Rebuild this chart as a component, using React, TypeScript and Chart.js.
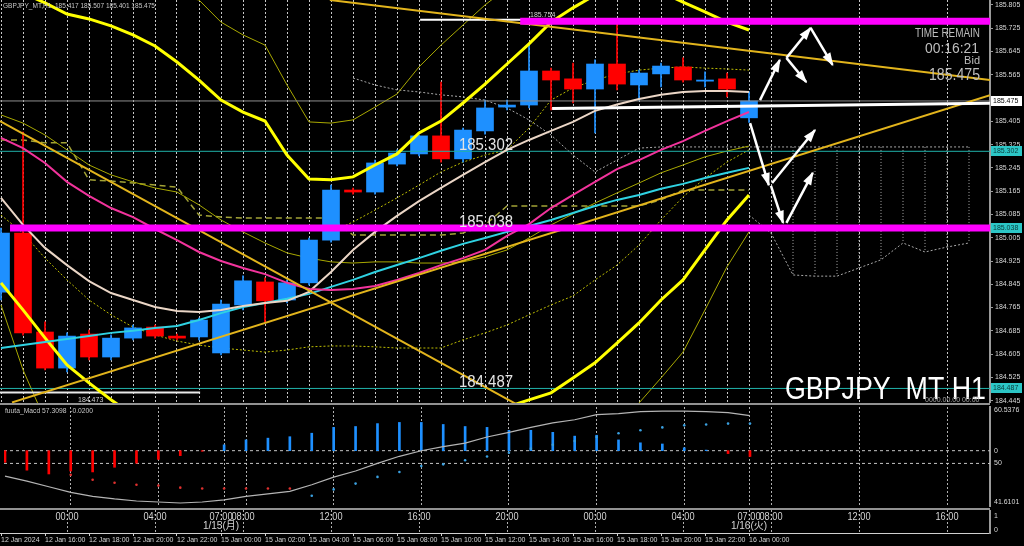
import React, { useEffect, useRef } from "react";
import { Chart, registerables } from "chart.js";

Chart.register(...registerables);

const FONT = "'Liberation Sans', Arial, sans-serif";
const BLUE = "#1E90FF";
const RED = "#FF0000";

// x axis: one hourly bar per index (0 = 12 Jan 14:00 server time), future slots up to 44
const X_MIN = -1 / 22;
const X_MAX = 45 - 1 / 22;
const PRICE_MIN = 184.437;
const PRICE_MAX = 185.822;

// ---------- candles (GBPJPY H1) ----------
const candleOpen = [184.818, 185.021, 184.681, 184.557, 184.674, 184.595, 184.66, 184.698, 184.667, 184.664, 184.609, 184.774, 184.853, 184.791, 184.85, 184.997, 185.169, 185.162, 185.258, 185.293, 185.355, 185.276, 185.372, 185.454, 185.461, 185.578, 185.551, 185.516, 185.602, 185.53, 185.568, 185.592, 185.543, 185.551, 185.417];
const candleHigh = [185.038, 185.368, 184.716, 184.678, 184.688, 184.671, 184.705, 184.705, 184.674, 184.729, 184.791, 184.874, 184.867, 184.86, 185.004, 185.186, 185.176, 185.272, 185.307, 185.358, 185.54, 185.382, 185.478, 185.478, 185.667, 185.588, 185.605, 185.616, 185.754, 185.581, 185.605, 185.623, 185.575, 185.571, 185.507];
const candleLow = [184.791, 184.67, 184.551, 184.544, 184.585, 184.585, 184.654, 184.66, 184.654, 184.654, 184.602, 184.757, 184.716, 184.781, 184.843, 184.99, 185.155, 185.155, 185.252, 185.286, 185.265, 185.265, 185.361, 185.444, 185.451, 185.444, 185.468, 185.365, 185.513, 185.478, 185.523, 185.54, 185.523, 185.489, 185.401];
const candleClose = [185.021, 184.678, 184.557, 184.667, 184.595, 184.66, 184.695, 184.667, 184.66, 184.722, 184.777, 184.857, 184.788, 184.85, 184.997, 185.169, 185.162, 185.262, 185.296, 185.355, 185.276, 185.375, 185.451, 185.461, 185.578, 185.547, 185.516, 185.602, 185.533, 185.571, 185.595, 185.547, 185.547, 185.516, 185.475];

// ---------- moving averages ----------
const maShort = [185.142, 185.049, 184.97, 184.911, 184.856, 184.815, 184.791, 184.767, 184.753, 184.75, 184.757, 184.77, 184.781, 184.788, 184.819, 184.887, 184.963, 185.025, 185.08, 185.131, 185.176, 185.221, 185.265, 185.307, 185.341, 185.372, 185.403, 185.441, 185.463, 185.482, 185.496, 185.506, 185.509, 185.509, 185.506];
const maMid = [185.348, 185.313, 185.262, 185.197, 185.149, 185.107, 185.076, 185.035, 184.997, 184.956, 184.925, 184.901, 184.88, 184.85, 184.829, 184.825, 184.829, 184.839, 184.86, 184.884, 184.911, 184.935, 184.963, 185.011, 185.052, 185.107, 185.152, 185.197, 185.241, 185.272, 185.307, 185.337, 185.372, 185.406, 185.437];
const maLong = [184.626, 184.636, 184.647, 184.657, 184.667, 184.678, 184.685, 184.695, 184.702, 184.722, 184.746, 184.767, 184.781, 184.795, 184.812, 184.836, 184.86, 184.887, 184.911, 184.935, 184.96, 184.984, 185.004, 185.025, 185.045, 185.066, 185.09, 185.114, 185.135, 185.152, 185.173, 185.19, 185.21, 185.228, 185.245];

// ---------- bands / envelopes ----------
const bandUpper = [185.884, 185.846, 185.812, 185.774, 185.757, 185.733, 185.702, 185.664, 185.609, 185.547, 185.478, 185.437, 185.406, 185.289, 185.207, 185.204, 185.214, 185.255, 185.293, 185.365, 185.406, 185.468, 185.533, 185.602, 185.671, 185.746, 185.795, 185.839, 185.863, 185.863, 185.849, 185.815, 185.781, 185.746, 185.719];
const bandLower = [184.85, 184.757, 184.661, 184.568, 184.506, 184.448, 184.396, 184.362, 184.338, 184.317, 184.293, 184.276, 184.269, 184.276, 184.289, 184.293, 184.286, 184.293, 184.31, 184.338, 184.362, 184.396, 184.406, 184.423, 184.448, 184.472, 184.523, 184.575, 184.643, 184.712, 184.791, 184.86, 184.963, 185.066, 185.152];
const envUpper = [185.96, 185.942, 185.925, 185.911, 185.898, 185.884, 185.87, 185.853, 185.836, 185.822, 185.746, 185.702, 185.667, 185.53, 185.403, 185.399, 185.41, 185.454, 185.499, 185.592, 185.667, 185.736, 185.805, 185.863, 185.925, 185.977, 186.011, 186.045, 186.063, 186.069, 186.063, 186.045, 186.021, 185.994, 185.966];
const envMiddle = [185.427, 185.399, 185.358, 185.307, 185.255, 185.221, 185.197, 185.176, 185.162, 185.118, 185.066, 185.025, 184.987, 184.953, 184.935, 184.922, 184.918, 184.922, 184.922, 184.918, 184.918, 184.922, 184.939, 184.963, 185.004, 185.049, 185.087, 185.124, 185.159, 185.193, 185.228, 185.255, 185.283, 185.303, 185.32];
const envLower = [184.774, 184.551, 184.379, null, null, null, null, null, null, null, null, null, null, null, null, null, null, null, null, null, null, null, null, null, null, null, null, null, 184.344, 184.437, 184.523, 184.612, 184.757, 184.905, 185.025];
const dotLower = [185.083, 185.021, 184.935, 184.86, 184.791, 184.74, 184.698, 184.671, 184.65, 184.636, 184.626, 184.619, 184.612, 184.619, 184.63, 184.633, 184.633, 184.63, 184.626, 184.626, 184.626, 184.654, 184.678, 184.705, 184.74, 184.774, 184.805, 184.86, 184.911, 184.98, 185.066, 185.145, 185.21, 185.265, 185.307];
const dotUpperStart = 15;
const dotUpper = [185.025, 185.059, 185.1, 185.142, 185.186, 185.231, 185.265, 185.289, 185.307, 185.382, 185.478, 185.52, 185.547, 185.568, 185.581, 185.588, 185.592, 185.588, 185.585, 185.581];
const kijun = [185.341, 185.341, 185.331, 185.331, 185.204, 185.2, 185.193, 185.186, 185.179, 185.083, 185.076, 185.073, 185.073, 185.073, 185.073, 185.073, 185.014, 185.014, 185.014, 185.014, 185.014, 185.021, 185.049, 185.114, 185.114, 185.114, 185.114, 185.114, 185.114, 185.114, 185.135, 185.169, 185.169, 185.169, 185.169];
const spanAStart = 16;
const spanA = [185.554, 185.53, 185.513, 185.506, 185.496, 185.489, 185.478, 185.451, 185.41, 185.358, 185.289, 185.231, 185.272, 185.313, 185.317, 185.317, 185.317, 185.317, 185.317, 185.317, 185.317, 185.317, 185.317, 185.317, 185.317, 185.317, 185.317, 185.317, 185.317];
const spanBStart = 34;
const spanB = [185.083, 185.021, 184.877, 184.873, 184.873, 184.901, 184.929, 184.987, 184.956, 184.973, 184.987];

// ---------- trend lines / levels / arrows ----------
const trendX1 = [X_MIN, 0.5, 14.95];
const trendY1 = [185.406, 184.439, 185.822];
const trendX2 = [23.5, X_MAX, X_MAX];
const trendY2 = [184.43, 185.495, 185.547];
const magentaLevels = [185.749, 185.038];
const magentaFrom = [23.6, 0.41];
const cyanLevels = [185.302, 184.487];
const bidPrice = 185.475;
const highLevel = 185.754;
const highFrom = 19.05;
const highTo = 29.05;
const lowLevel = 184.473;
const lowTo = 9.05;
const supportX = [25.05, X_MAX];
const supportY = [185.449, 185.467];
const arrowX1 = [34.5, 35.7, 36.8, 35.7, 34.05, 35.05, 35.0, 35.7];
const arrowY1 = [185.478, 185.623, 185.726, 185.623, 185.399, 185.193, 185.183, 185.056];
const arrowX2 = [35.4, 36.8, 37.8, 36.6, 34.9, 37.0, 35.55, 36.9];
const arrowY2 = [185.616, 185.726, 185.599, 185.54, 185.186, 185.375, 185.056, 185.228];
const lineLabelValues = [185.302, 185.038, 184.487];

// ---------- price axis ----------
const priceTicks = [185.805, 185.725, 185.645, 185.565, 185.405, 185.325, 185.245, 185.165, 185.085, 185.005, 184.925, 184.845, 184.765, 184.685, 184.605, 184.525, 184.445];
const boxValues = [185.475, 185.302, 185.038, 184.487];
const boxBg = ["#FFFFFF", "#2CC6C6", "#2CC6C6", "#2CC6C6"];
const boxFg = ["#000000", "#0B3A3A", "#0B3A3A", "#0B3A3A"];

// ---------- sub window (fuuta_Macd) ----------
const macdHist = [-0.04, -0.067, -0.08, -0.07, -0.073, -0.057, -0.043, -0.03, -0.017, -0.002, 0.02, 0.037, 0.043, 0.048, 0.06, 0.08, 0.083, 0.093, 0.097, 0.097, 0.09, 0.083, 0.08, 0.07, 0.07, 0.063, 0.05, 0.053, 0.037, 0.027, 0.023, 0.01, 0.002, -0.01, -0.02];
const macdSignal = [null, null, null, -0.083, -0.1, -0.11, -0.117, -0.12, -0.127, -0.13, -0.13, -0.13, -0.13, -0.13, -0.155, -0.133, -0.113, -0.09, -0.073, -0.053, -0.047, -0.033, -0.02, -0.007, 0.007, 0.02, 0.033, 0.047, 0.06, 0.07, 0.08, 0.087, 0.09, 0.093, 0.093];
const oscLine = [47.5, 46.5, 45.4, 44.3, 43.5, 43.0, 42.6, 42.4, 42.2, 42.4, 42.8, 43.5, 44.0, 44.5, 45.8, 47.3, 48.5, 50.0, 51.4, 52.5, 53.3, 54.0, 55.2, 56.1, 57.1, 58.0, 58.6, 59.6, 59.8, 60.2, 60.3, 60.3, 60.2, 60.0, 59.4];
const oscMax = 60.5376;
const oscMin = 41.6101;
const oscMid = 50;

// ---------- time labels ----------
const axisTickIdx = [0, 2, 4, 6, 8, 10, 12, 14, 16, 18, 20, 22, 24, 26, 28, 30, 32, 34];
const axisTickText = ["12 Jan 2024", "12 Jan 16:00", "12 Jan 18:00", "12 Jan 20:00", "12 Jan 22:00", "15 Jan 00:00", "15 Jan 02:00", "15 Jan 04:00", "15 Jan 06:00", "15 Jan 08:00", "15 Jan 10:00", "15 Jan 12:00", "15 Jan 14:00", "15 Jan 16:00", "15 Jan 18:00", "15 Jan 20:00", "15 Jan 22:00", "16 Jan 00:00"];
const paneTimeIdx = [3, 7, 10, 11, 15, 19, 23, 27, 31, 34, 35, 39, 43];
const paneTimeText = ["00:00", "04:00", "07:00", "08:00", "12:00", "16:00", "20:00", "00:00", "04:00", "07:00", "08:00", "12:00", "16:00"];
const paneDateIdx = [10, 34];
const paneDateText = ["1/15(月)", "1/16(火)"];

const mainGridIdx = [...Array.from({ length: 36 }, (_, i) => i), 39, 43];

// ---------- helpers ----------
const pts = (arr: (number | null)[], start = 0) => arr.map((v, k) => ({ x: start + k, y: v }));
const seg = (x1: number, y1: number, x2: number, y2: number) => [
  { x: x1, y: y1 },
  { x: x2, y: y2 },
];
const line = (data: any[], color: string, width: number, extra: any = {}) => ({
  type: "line",
  data,
  borderColor: color,
  borderWidth: width,
  pointRadius: 0,
  fill: false,
  tension: 0,
  spanGaps: false,
  order: 8,
  ...extra,
});

const xScaleBase = (gridIdx: number[], color: string) => ({
  type: "linear",
  min: X_MIN,
  max: X_MAX,
  offset: false,
  afterBuildTicks: (s: any) => {
    s.ticks = gridIdx.map((v) => ({ value: v }));
  },
  afterFit: (s: any) => {
    s.height = 0;
    s.paddingLeft = 0;
    s.paddingRight = 0;
  },
  ticks: { display: false },
  grid: { color, lineWidth: 1, drawTicks: false, offset: false },
  border: { display: false, dash: [2, 2] },
});

const rightAxisFrame = (extra: any = {}) => ({
  type: "linear",
  position: "right",
  axis: "y",
  afterFit: (s: any) => {
    s.width = 34;
    s.paddingTop = 0;
    s.paddingBottom = 0;
  },
  ticks: { display: false },
  grid: { drawOnChartArea: false, drawTicks: false },
  border: { display: true, color: "#9a9a9a", width: 2 },
  ...extra,
});

const baseOptions = {
  animation: false,
  responsive: false,
  devicePixelRatio: 1,
  events: [],
  plugins: { legend: { display: false }, tooltip: { enabled: false } },
};

// ---------- main price window ----------
const mainOverlay = {
  id: "mainOverlay",
  afterDatasetsDraw(chart: any) {
    const { ctx, chartArea: a } = chart;
    const xs = chart.scales.x;
    const ys = chart.scales.y;
    ctx.save();
    ctx.beginPath();
    ctx.rect(a.left, a.top, a.right - a.left, a.bottom - a.top);
    ctx.clip();
    // arrow heads
    ctx.fillStyle = "#FFFFFF";
    for (let k = 0; k < arrowX1.length; k++) {
      const x1 = xs.getPixelForValue(arrowX1[k]);
      const y1 = ys.getPixelForValue(arrowY1[k]);
      const x2 = xs.getPixelForValue(arrowX2[k]);
      const y2 = ys.getPixelForValue(arrowY2[k]);
      const ang = Math.atan2(y2 - y1, x2 - x1);
      const L = 12;
      const H = 4.5;
      const bx = x2 - L * Math.cos(ang);
      const by = y2 - L * Math.sin(ang);
      ctx.beginPath();
      ctx.moveTo(x2 + 1.5 * Math.cos(ang), y2 + 1.5 * Math.sin(ang));
      ctx.lineTo(bx + H * Math.sin(ang), by - H * Math.cos(ang));
      ctx.lineTo(bx - H * Math.sin(ang), by + H * Math.cos(ang));
      ctx.closePath();
      ctx.fill();
    }
    // header
    ctx.textBaseline = "middle";
    ctx.textAlign = "left";
    ctx.fillStyle = "#C8C8C8";
    ctx.font = `7px ${FONT}`;
    ctx.fillText(
      `GBPJPY_MT,H1  ${candleOpen[34].toFixed(3)} ${candleHigh[34].toFixed(3)} ${candleLow[34].toFixed(3)} ${candleClose[34].toFixed(3)}`,
      3,
      6,
      152
    );
    // level labels
    ctx.textBaseline = "alphabetic";
    ctx.fillStyle = "#E4E4E4";
    ctx.font = `16px ${FONT}`;
    lineLabelValues.forEach((v) => {
      ctx.fillText(v.toFixed(3), 459, ys.getPixelForValue(v) - 1.5, 54);
    });
    ctx.font = `7px ${FONT}`;
    ctx.fillStyle = "#D0D0D0";
    ctx.fillText(highLevel.toFixed(3), 530, ys.getPixelForValue(highLevel) - 3, 26);
    ctx.fillText(lowLevel.toFixed(3), 78, ys.getPixelForValue(lowLevel) + 9, 26);
    // time remain block
    ctx.textAlign = "right";
    ctx.fillStyle = "#BEBEBE";
    ctx.font = `12px ${FONT}`;
    ctx.fillText("TIME REMAIN", 980, 37, 65);
    ctx.font = `14px ${FONT}`;
    ctx.fillText("00:16:21", 979, 53, 54);
    ctx.font = `11px ${FONT}`;
    ctx.fillText("Bid", 980, 64);
    ctx.font = `16px ${FONT}`;
    ctx.fillText(bidPrice.toFixed(3), 980, 80, 51);
    // symbol
    ctx.textAlign = "left";
    ctx.fillStyle = "#FFFFFF";
    ctx.font = `31px ${FONT}`;
    ctx.fillText("GBPJPY_MT H1", 785, 399, 201);
    ctx.font = `7px ${FONT}`;
    ctx.fillStyle = "#A8A8A8";
    ctx.fillText("0000.00.00 00:00", 925, 402, 60);
    ctx.restore();
  },
  afterDraw(chart: any) {
    const { ctx } = chart;
    const ys = chart.scales.y;
    ctx.save();
    ctx.font = `7px ${FONT}`;
    ctx.textBaseline = "middle";
    ctx.textAlign = "left";
    boxValues.forEach((v, k) => {
      const py = Math.round(ys.getPixelForValue(v));
      ctx.fillStyle = boxBg[k];
      ctx.fillRect(991, py - 5, 31, 10);
      ctx.fillStyle = boxFg[k];
      ctx.fillText(v.toFixed(3), 993, py + 0.5, 28);
    });
    ctx.restore();
  },
};

function buildMain() {
  const colors = candleOpen.map((o, i) => (candleClose[i] >= o ? BLUE : RED));
  const ds: any[] = [];
  for (let i = 36; i <= 44; i++) {
    ds.push(line(seg(i, spanA[i - spanAStart], i, spanB[i - spanBStart]), "#a8a8a8", 1, { borderDash: [1, 2], order: 30 }));
  }
  ds.push(line(pts(spanA, spanAStart), "#a8a8a8", 1, { borderDash: [2, 2], order: 29 }));
  ds.push(line(pts(spanB, spanBStart), "#a8a8a8", 1, { borderDash: [2, 2], order: 29 }));
  ds.push(line(pts(kijun), "#A3A336", 1.5, { borderDash: [6, 4], order: 28 }));
  ds.push(line(pts(dotLower), "#BDBD00", 1, { borderDash: [2, 2], order: 28 }));
  ds.push(line(pts(dotUpper, dotUpperStart), "#BDBD00", 1, { borderDash: [2, 2], order: 28 }));
  ds.push(line(pts(envMiddle), "#A8A800", 1, { order: 27 }));
  ds.push(line(pts(envUpper), "#A8A800", 1, { order: 27 }));
  ds.push(line(pts(envLower), "#A8A800", 1, { order: 27 }));
  ds.push({
    type: "bar",
    data: candleOpen.map((_, i) => ({ x: i, y: [candleLow[i], candleHigh[i]] })),
    backgroundColor: colors,
    borderWidth: 0,
    barThickness: 1,
    grouped: false,
    order: 26,
  });
  ds.push({
    type: "bar",
    data: candleOpen.map((o, i) => ({ x: i, y: [o, candleClose[i]] })),
    backgroundColor: colors,
    borderWidth: 0,
    borderSkipped: false,
    barThickness: 17,
    grouped: false,
    order: 25,
  });
  cyanLevels.forEach((v) => ds.push(line(seg(X_MIN, v, X_MAX, v), "#20B2AA", 1, { order: 20 })));
  ds.push(line(seg(X_MIN, bidPrice, X_MAX, bidPrice), "#8E8E8E", 1, { order: 20 }));
  ds.push(line(seg(highFrom, highLevel, highTo, highLevel), "#FFFFFF", 2, { order: 19 }));
  ds.push(line(seg(X_MIN, lowLevel, lowTo, lowLevel), "#E8E8E8", 2, { order: 19 }));
  ds.push(line(pts(bandUpper), "#FFFF00", 3, { order: 12 }));
  ds.push(line(pts(bandLower), "#FFFF00", 3, { order: 12 }));
  ds.push(line(pts(maShort), "#EBD6C6", 2, { order: 10 }));
  ds.push(line(pts(maLong), "#2FD2E2", 2, { order: 10 }));
  ds.push(line(pts(maMid), "#F2339C", 2, { order: 9 }));
  trendX1.forEach((x1, k) => ds.push(line(seg(x1, trendY1[k], trendX2[k], trendY2[k]), "#E2B41C", 2, { order: 8 })));
  magentaLevels.forEach((v, k) => ds.push(line(seg(magentaFrom[k], v, X_MAX, v), "#FF00FF", 7, { order: 6 })));
  ds.push(line(seg(supportX[0], supportY[0], supportX[1], supportY[1]), "#FFFFFF", 3, { order: 5 }));
  arrowX1.forEach((x1, k) => ds.push(line(seg(x1, arrowY1[k], arrowX2[k], arrowY2[k]), "#FFFFFF", 2.5, { order: 1 })));

  return {
    type: "line",
    data: { datasets: ds },
    options: {
      ...baseOptions,
      layout: { padding: 0 },
      scales: {
        x: xScaleBase(mainGridIdx, "#c8c8c8"),
        y: {
          type: "linear",
          position: "right",
          min: PRICE_MIN,
          max: PRICE_MAX,
          afterBuildTicks: (s: any) => {
            s.ticks = priceTicks.map((v) => ({ value: v }));
          },
          afterFit: (s: any) => {
            s.width = 34;
            s.paddingTop = 0;
            s.paddingBottom = 0;
          },
          ticks: {
            color: "#D8D8D8",
            font: { size: 7, family: FONT },
            padding: 2,
            autoSkip: false,
            callback: (v: any) => Number(v).toFixed(3),
          },
          grid: { drawOnChartArea: false, tickLength: 3, color: "#9a9a9a" },
          border: { display: true, color: "#9a9a9a", width: 2 },
        },
      },
    },
    plugins: [mainOverlay],
  };
}

// ---------- oscillator window ----------
const macdOverlay = {
  id: "macdOverlay",
  beforeDraw(chart: any) {
    const { ctx } = chart;
    ctx.save();
    ctx.fillStyle = "#929292";
    ctx.fillRect(0, 0, 990, 2);
    ctx.fillRect(0, chart.height - 2, 990, 2);
    ctx.restore();
  },
  afterDraw(chart: any) {
    const { ctx, chartArea: a } = chart;
    const o = chart.scales.osc;
    const h = chart.scales.hist;
    ctx.save();
    ctx.font = `7px ${FONT}`;
    ctx.fillStyle = "#C8C8C8";
    ctx.textBaseline = "middle";
    ctx.textAlign = "left";
    ctx.fillText(`fuuta_Macd 57.3098  ${macdHist[34].toFixed(4)}`, 5, 8, 88);
    ctx.fillStyle = "#D8D8D8";
    const lab = (t: string, py: number) => ctx.fillText(t, 994, Math.min(Math.max(py, a.top + 3), a.bottom - 4), 29);
    lab(oscMax.toFixed(4), o.getPixelForValue(oscMax));
    lab("0", h.getPixelForValue(0));
    lab(String(oscMid), o.getPixelForValue(oscMid));
    lab(oscMin.toFixed(4), o.getPixelForValue(oscMin));
    ctx.restore();
  },
};

function buildMacd() {
  const ds: any[] = [];
  ds.push(line(seg(X_MIN, 0, X_MAX, 0), "#C4C4C4", 1, { yAxisID: "hist", borderDash: [3, 3], order: 20 }));
  ds.push(line(seg(X_MIN, oscMid, X_MAX, oscMid), "#C4C4C4", 1, { yAxisID: "osc", borderDash: [3, 3], order: 20 }));
  ds.push({
    type: "bar",
    yAxisID: "hist",
    data: pts(macdHist),
    backgroundColor: macdHist.map((v) => (v >= 0 ? BLUE : RED)),
    borderWidth: 0,
    barThickness: 2,
    grouped: false,
    order: 10,
  });
  ds.push(line(pts(oscLine), "#B4B4B4", 1.2, { yAxisID: "osc", order: 5 }));
  ds.push({
    type: "line",
    yAxisID: "hist",
    data: pts(macdSignal),
    showLine: false,
    pointRadius: 1.3,
    pointBorderWidth: 0,
    pointBackgroundColor: macdSignal.map((_, i) => (i <= 13 ? "#E0302E" : "#3AA0E0")),
    order: 4,
  });
  return {
    type: "line",
    data: { datasets: ds },
    options: {
      ...baseOptions,
      layout: { padding: { top: 3, bottom: 2, left: 0, right: 0 } },
      scales: {
        x: xScaleBase(paneTimeIdx, "#b0b0b0"),
        osc: rightAxisFrame({ min: 41.6101, max: 61.111 }),
        hist: { type: "linear", axis: "y", display: false, min: -0.19, max: 0.15 },
      },
    },
    plugins: [macdOverlay],
  };
}

// ---------- time pane / axis ----------
const axisOverlay = {
  id: "axisOverlay",
  afterDraw(chart: any) {
    const { ctx } = chart;
    const xs = chart.scales.x;
    ctx.save();
    ctx.textAlign = "center";
    ctx.textBaseline = "middle";
    ctx.fillStyle = "#D4D4D4";
    ctx.font = `10px ${FONT}`;
    paneTimeIdx.forEach((i, k) => ctx.fillText(paneTimeText[k], xs.getPixelForValue(i), 7, 23));
    ctx.font = `10px ${FONT}, 'Noto Sans CJK JP'`;
    paneDateIdx.forEach((i, k) => ctx.fillText(paneDateText[k], xs.getPixelForValue(i), 16));
    ctx.textAlign = "left";
    ctx.font = `7px ${FONT}`;
    ctx.fillText("1", 994, 6);
    ctx.fillText("0", 994, 20);
    ctx.restore();
  },
};

function buildAxis() {
  return {
    type: "line",
    data: { datasets: [] },
    options: {
      ...baseOptions,
      layout: { padding: 0 },
      scales: {
        x: {
          type: "linear",
          min: X_MIN,
          max: X_MAX,
          offset: false,
          position: "bottom",
          afterBuildTicks: (s: any) => {
            s.ticks = axisTickIdx.map((v) => ({ value: v }));
          },
          afterFit: (s: any) => {
            s.height = 13;
            s.paddingLeft = 0;
            s.paddingRight = 0;
          },
          ticks: {
            color: "#D4D4D4",
            font: { size: 7, family: FONT },
            align: "start",
            padding: 0,
            autoSkip: false,
            maxRotation: 0,
            minRotation: 0,
            callback: (_v: any, idx: number) => axisTickText[idx],
          },
          grid: { drawOnChartArea: false, tickLength: 3, color: "#D0D0D0", offset: false },
          border: { display: true, color: "#D0D0D0", width: 1 },
        },
        g: { ...xScaleBase(paneTimeIdx, "#b0b0b0"), axis: "x", position: "bottom" },
        y: rightAxisFrame({ min: 0, max: 1 }),
      },
    },
    plugins: [axisOverlay],
  };
}

export default function App() {
  const mainRef = useRef<HTMLCanvasElement>(null);
  const macdRef = useRef<HTMLCanvasElement>(null);
  const axisRef = useRef<HTMLCanvasElement>(null);

  useEffect(() => {
    const charts = [
      new Chart(mainRef.current as HTMLCanvasElement, buildMain() as any),
      new Chart(macdRef.current as HTMLCanvasElement, buildMacd() as any),
      new Chart(axisRef.current as HTMLCanvasElement, buildAxis() as any),
    ];
    return () => charts.forEach((c) => c.destroy());
  }, []);

  return (
    <div style={{ position: "fixed", left: 0, top: 0, width: 1024, height: 546, background: "#000", overflow: "hidden" }}>
      <canvas ref={mainRef} width={1024} height={403} style={{ position: "absolute", left: 0, top: 0, width: 1024, height: 403 }} />
      <canvas ref={macdRef} width={1024} height={107} style={{ position: "absolute", left: 0, top: 403, width: 1024, height: 107 }} />
      <canvas ref={axisRef} width={1024} height={36} style={{ position: "absolute", left: 0, top: 510, width: 1024, height: 36 }} />
    </div>
  );
}
